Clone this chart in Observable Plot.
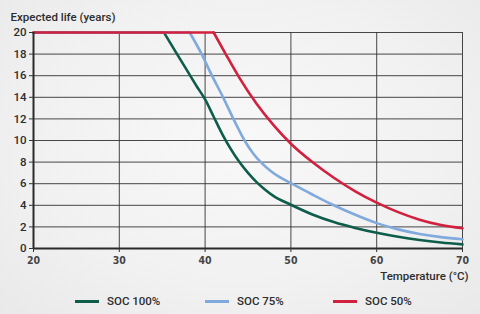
<!DOCTYPE html>
<html>
<head>
<meta charset="utf-8">
<script src="https://cdn.jsdelivr.net/npm/d3@7"></script>
<script src="https://cdn.jsdelivr.net/npm/@observablehq/plot@0.6"></script>
<style>
  html, body { margin: 0; padding: 0; }
  body {
    width: 480px; height: 314px; overflow: hidden;
    background: radial-gradient(ellipse at 50% 45%, #f8f8f8 0%, #f1f1f1 60%, #e9e9e9 100%);
    font-family: Roboto, "Open Sans", sans-serif;
    position: relative;
  }
  #legend { position: absolute; left: 0; top: 294px; width: 480px; height: 18px; }
  .item { position: absolute; top: 0; display: flex; align-items: center; font-size: 11.5px; font-weight: 500; color: #2d2d2d; }
  .sw { width: 24px; height: 3px; margin-right: 8px; }
</style>
</head>
<body>
<div id="chart"></div>
<div id="legend"></div>
<script>
const seriesNames = ["SOC 100%", "SOC 75%", "SOC 50%"];
const seriesColors = ["#0e5c4a", "#80a9dd", "#d2203f"];

const temp100 = [20, 35.2, 36.5, 38, 39, 40, 41, 42, 43, 44, 45, 46, 47, 48, 50, 52.5, 55, 57.5, 60, 62.5, 65, 67.5, 70];
const life100 = [20, 20, 18.3, 16.35, 15.05, 13.8, 12.2, 10.6, 9.2, 8.0, 7.0, 6.15, 5.45, 4.85, 4.05, 3.15, 2.45, 1.9, 1.45, 1.08, 0.78, 0.55, 0.38];

const temp75 = [20, 38.2, 39.6, 40.8, 42.1, 43.3, 44.6, 45.6, 46.6, 47.6, 48.6, 50, 52.5, 55, 57.5, 60, 62.5, 65, 67.5, 70];
const life75 = [20, 20, 18, 16, 14, 12, 10, 8.8, 7.9, 7.2, 6.65, 6.05, 5.0, 4.0, 3.12, 2.35, 1.77, 1.34, 1.05, 0.86];

const temp50 = [20, 41, 42.4, 44, 46, 48, 50, 52.5, 55, 57.5, 60, 62.5, 65, 67.5, 70];
const life50 = [20, 20, 18, 15.8, 13.4, 11.4, 9.7, 8.0, 6.55, 5.3, 4.25, 3.37, 2.67, 2.17, 1.87];

const xTicks = [20, 30, 40, 50, 60, 70];
const yTicks = [0, 2, 4, 6, 8, 10, 12, 14, 16, 18, 20];

const temps = [temp100, temp75, temp50];
const lives = [life100, life75, life50];
// Split each series into its flat plateau and its decay so the corner stays sharp.
const data = [];
seriesNames.forEach((s, i) => {
  const T = temps[i], L = lives[i];
  T.forEach((t, j) => {
    if (j <= 1) data.push({series: s, part: s + "|flat", temp: t, life: L[j]});
    if (j >= 1) data.push({series: s, part: s + "|decay", temp: t, life: L[j]});
  });
});

const W = 480, H = 290;
const chart = Plot.plot({
  width: W, height: H,
  marginLeft: 33, marginRight: 18, marginTop: 32, marginBottom: 42,
  style: {background: "transparent", fontFamily: "Roboto, sans-serif", color: "#2d2d2d", overflow: "visible"},
  x: {domain: [20, 70]},
  y: {domain: [0, 20]},
  color: {domain: seriesNames, range: seriesColors},
  marks: [
    Plot.gridX(xTicks, {stroke: "#333", strokeOpacity: 0.9, strokeWidth: 1}),
    Plot.gridY(yTicks, {stroke: "#333", strokeOpacity: 0.9, strokeWidth: 1}),
    Plot.line(data, {x: "temp", y: "life", z: "part", stroke: "series", strokeWidth: 2.6, curve: "monotone-x", strokeLinejoin: "miter"}),
    Plot.ruleX([20], {stroke: "#2a2a2a", strokeWidth: 2}),
    Plot.ruleY([0], {stroke: "#2a2a2a", strokeWidth: 2}),
    Plot.axisX(xTicks, {tickSize: 4, tickPadding: 4, fontSize: 10.5, fontFamily: "'Liberation Sans Narrow', 'DejaVu Sans Condensed', Roboto, sans-serif", fontWeight: "bold", fill: "#444", stroke: "#333", label: null}),
    Plot.axisY(yTicks, {tickSize: 4, tickPadding: 3, fontSize: 11.5, fontWeight: 500, fill: "#2d2d2d", stroke: "#333", label: null}),
    Plot.text(["Expected life (years)"], {frameAnchor: "top-left", textAnchor: "start", dx: -23, dy: -20, fontSize: 11.5, fontWeight: 500, fill: "#2d2d2d"}),
    Plot.text(["Temperature (°C)"], {frameAnchor: "bottom-right", textAnchor: "end", dx: 6, dy: 31, fontSize: 11.5, fontWeight: 500, fill: "#2d2d2d"})
  ]
});
document.getElementById("chart").appendChild(chart);

const legendX = [75, 205, 333];
const legend = document.getElementById("legend");
seriesNames.forEach((s, i) => {
  const it = document.createElement("div");
  it.className = "item";
  it.style.left = legendX[i] + "px";
  it.innerHTML = `<span class="sw" style="background:${seriesColors[i]}"></span><span>${s}</span>`;
  legend.appendChild(it);
});
</script>
</body>
</html>
